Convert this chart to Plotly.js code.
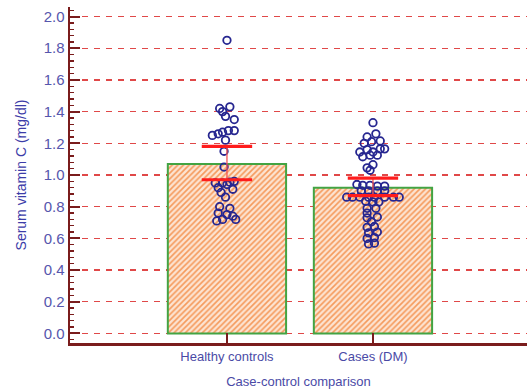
<!DOCTYPE html>
<html>
<head>
<meta charset="utf-8">
<script src="https://cdn.plot.ly/plotly-3.0.1.min.js"></script>
<style>
  html, body { margin: 0; padding: 0; background: #ffffff; }
  #chart { width: 527px; height: 392px; }
</style>
</head>
<body>
<div id="chart"></div>
<script>
// Group labels and summary statistics (mean with 95% CI)
const groups = ["Healthy controls", "Cases (DM)"];
const groupMeans = [1.07, 0.92];
const ciLower = [0.97, 0.87];
const ciUpper = [1.18, 0.98];

// Individual serum vitamin C values, healthy controls
const healthyValues = [1.85, 1.43, 1.42, 1.40, 1.37, 1.35, 1.28, 1.28, 1.27, 1.26, 1.25, 1.22,
  1.15, 1.05, 0.96, 0.955, 0.95, 0.95, 0.94, 0.92, 0.91, 0.89, 0.86, 0.80, 0.79, 0.76,
  0.75, 0.74, 0.72, 0.72, 0.71];
// horizontal spread of each dot within its column
const healthyJitter = [0.00, 0.02, -0.05, -0.03, -0.01, 0.05, 0.05, 0.01, -0.03, -0.06, -0.10, -0.01,
  -0.02, -0.02, 0.05, 0.02, -0.03, -0.08, 0.00, -0.06, 0.04, -0.04, -0.01, -0.05, 0.02,
  -0.06, 0.00, 0.04, -0.03, 0.06, -0.07];

// Individual serum vitamin C values, diabetic cases
const casesValues = [1.33, 1.26, 1.24, 1.215, 1.21, 1.20, 1.165, 1.165, 1.16, 1.145, 1.145,
  1.125, 1.125, 1.115, 1.065, 1.045, 1.03, 0.94, 0.935, 0.935, 0.93, 0.93,
  0.90, 0.90, 0.90, 0.90, 0.86, 0.86, 0.86, 0.86, 0.86, 0.86, 0.86, 0.86,
  0.835, 0.83, 0.83, 0.79, 0.79, 0.76, 0.73, 0.735, 0.705, 0.67, 0.675,
  0.635, 0.64, 0.60, 0.605, 0.565, 0.57];
const casesJitter = [0.00, 0.02, -0.04, 0.05, -0.01, -0.06, 0.08, 0.05, -0.04, 0.00, -0.09,
  0.03, -0.02, -0.07, 0.00, -0.04, -0.02, -0.11, -0.07, -0.02, 0.03, 0.08,
  -0.08, -0.03, 0.03, 0.08, -0.18, -0.14, -0.09, -0.03, 0.01, 0.08, 0.14, 0.18,
  -0.05, 0.00, 0.04, -0.04, 0.02, -0.04, -0.04, 0.03, -0.01, -0.04, 0.01,
  -0.03, 0.03, -0.04, 0.01, -0.03, 0.01];

const maroon = "#7a1c1c";
const labelBlue = "#5656ad";
const positions = groups.map((g, i) => i);

const bars = {
  type: "bar",
  x: positions,
  y: groupMeans,
  width: 0.81,
  marker: {
    color: "#fddcc4",
    line: { color: "#43a443", width: 2 },
    pattern: { shape: "/", fgcolor: "#f59a5c", bgcolor: "#fde4d2", size: 4, solidity: 0.4 }
  },
  hoverinfo: "skip",
  showlegend: false
};

const dotStyle = {
  symbol: "circle-open",
  size: 7.5,
  color: "#262690",
  line: { width: 1.8, color: "#262690" }
};

const healthyDots = {
  type: "scatter", mode: "markers",
  x: healthyValues.map((v, i) => positions[0] + healthyJitter[i]),
  y: healthyValues,
  marker: dotStyle, showlegend: false
};

const casesDots = {
  type: "scatter", mode: "markers",
  x: casesValues.map((v, i) => positions[1] + casesJitter[i]),
  y: casesValues,
  marker: dotStyle, showlegend: false
};

// thin vertical connector of each confidence interval
const ciStem = {
  type: "scatter", mode: "markers",
  x: positions,
  y: groupMeans,
  marker: { size: 1, color: "rgba(0,0,0,0)" },
  error_y: {
    type: "data", symmetric: false,
    array: groupMeans.map((m, i) => ciUpper[i] - m),
    arrayminus: groupMeans.map((m, i) => m - ciLower[i]),
    color: "#f25555", thickness: 1.3, width: 0
  },
  showlegend: false, hoverinfo: "skip"
};

// thick caps at the interval limits
const ciCaps = {
  type: "scatter", mode: "markers",
  x: positions.concat(positions),
  y: ciLower.concat(ciUpper),
  marker: { symbol: "line-ew", size: 36, line: { color: "#ff1c1c", width: 3.2 } },
  showlegend: false, hoverinfo: "skip"
};

const layout = {
  width: 527,
  height: 392,
  margin: { l: 70, r: 0, t: 7, b: 49 },
  paper_bgcolor: "#ffffff",
  plot_bgcolor: "#ffffff",
  font: { family: "Arial, 'Liberation Sans', sans-serif", color: labelBlue },
  xaxis: {
    range: [-1.075, 2.055],
    tickmode: "array",
    tickvals: positions,
    ticktext: groups,
    ticks: "inside",
    ticklen: 10,
    tickwidth: 2,
    tickcolor: maroon,
    showline: true,
    linecolor: maroon,
    linewidth: 2.5,
    showgrid: false,
    zeroline: false,
    tickfont: { size: 13, color: "#4a4aa6" },
    title: { text: "Case-control comparison", font: { size: 13, color: "#4a4aa6" }, standoff: 14 }
  },
  yaxis: {
    range: [-0.06, 2.06],
    tickmode: "linear",
    tick0: 0,
    dtick: 0.2,
    tickformat: ".1f",
    ticks: "inside",
    ticklen: 10,
    tickwidth: 2,
    tickcolor: maroon,
    showline: true,
    linecolor: maroon,
    linewidth: 2.5,
    zeroline: false,
    showgrid: true,
    gridcolor: "#e04848",
    gridwidth: 1.4,
    griddash: "6px,6px",
    minor: { dtick: 0.04, ticks: "inside", ticklen: 4, tickwidth: 1.3, tickcolor: maroon, showgrid: false },
    tickfont: { size: 15, color: labelBlue },
    title: { text: "Serum vitamin C (mg/dl)", font: { size: 14, color: "#3c3ca8" }, standoff: 14 }
  }
};

Plotly.newPlot("chart", [bars, healthyDots, casesDots, ciStem, ciCaps], layout,
  { displayModeBar: false, staticPlot: true });
</script>
</body>
</html>
